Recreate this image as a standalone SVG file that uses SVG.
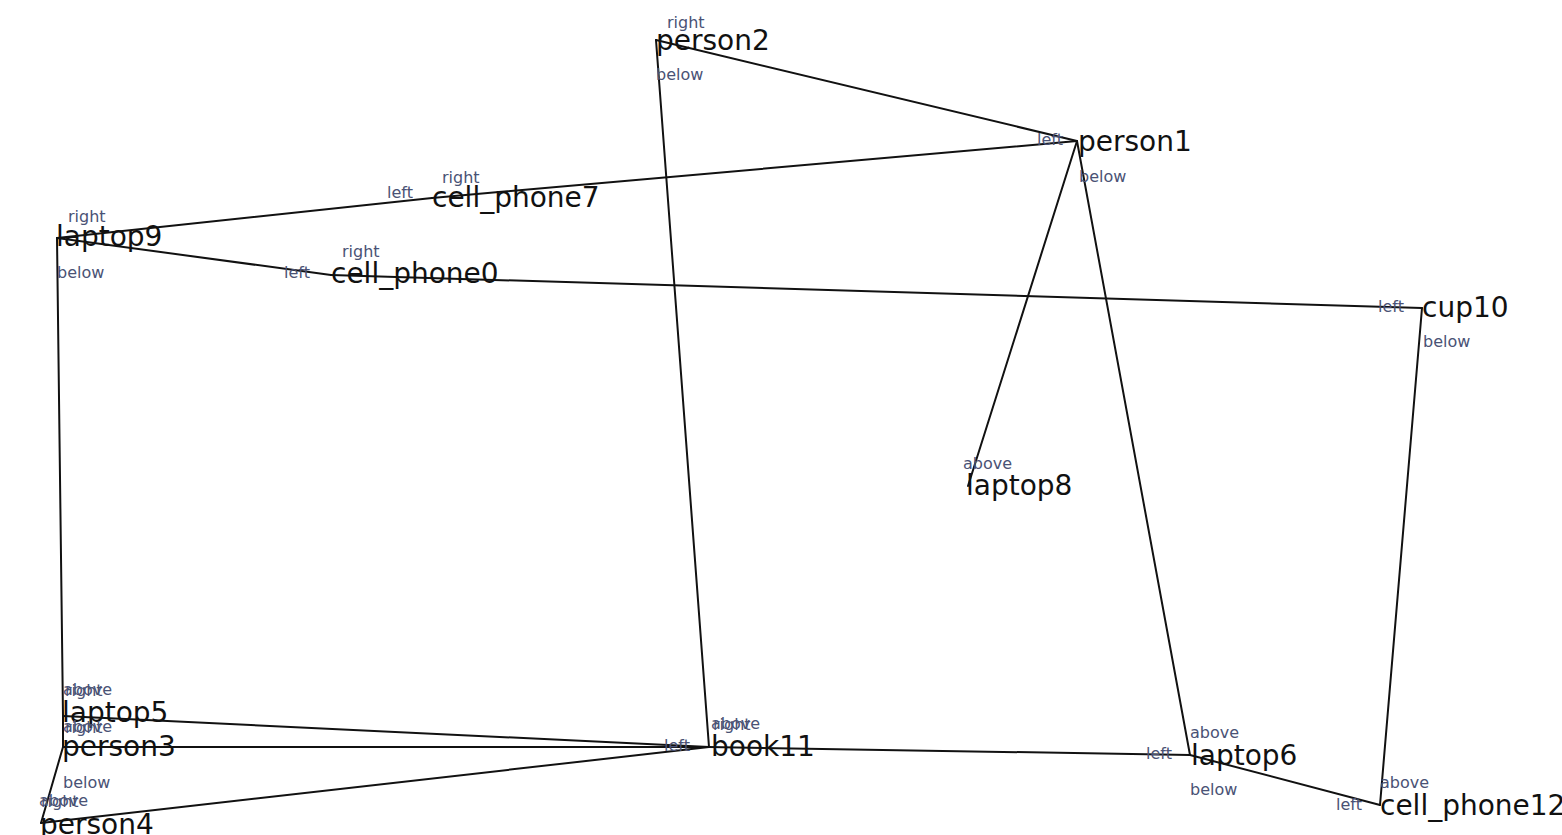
<svg xmlns="http://www.w3.org/2000/svg" width="1562" height="835" viewBox="0 0 1562 835">
  <style>
    .edge { stroke: #111; stroke-width: 2; fill: none; stroke-linecap: round; }
    .name { font-family: "DejaVu Sans", "Liberation Sans", sans-serif; font-size: 28px; fill: #111; }
    .rel { font-family: "DejaVu Sans", "Liberation Sans", sans-serif; font-size: 16px; fill: #4a5275; }
    .rel-l { text-anchor: end; }
  </style>
  <rect width="1562" height="835" fill="#fff"/>

  <!-- connectors -->
  <g id="edges">
    <line class="edge" x1="656" y1="40" x2="1077" y2="141"/>
    <line class="edge" x1="656" y1="40" x2="709" y2="747"/>
    <line class="edge" x1="57" y1="238" x2="432" y2="198"/>
    <line class="edge" x1="432" y1="198" x2="1077" y2="141"/>
    <line class="edge" x1="57" y1="238" x2="331" y2="275"/>
    <line class="edge" x1="331" y1="275" x2="1422" y2="308"/>
    <line class="edge" x1="1077" y1="141" x2="968" y2="486"/>
    <line class="edge" x1="1077" y1="141" x2="1190" y2="755"/>
    <line class="edge" x1="1422" y1="308" x2="1380" y2="805"/>
    <line class="edge" x1="57" y1="238" x2="63" y2="716"/>
    <line class="edge" x1="63" y1="716" x2="63" y2="747"/>
    <line class="edge" x1="63" y1="716" x2="709" y2="747"/>
    <line class="edge" x1="63" y1="747" x2="709" y2="747"/>
    <line class="edge" x1="63" y1="747" x2="41" y2="823"/>
    <line class="edge" x1="41" y1="823" x2="709" y2="747"/>
    <line class="edge" x1="709" y1="747" x2="1190" y2="755"/>
    <line class="edge" x1="1190" y1="755" x2="1380" y2="805"/>
  </g>

  <g id="person2">
    <text class="name" x="656" y="50">person2</text>
    <text class="rel" x="667" y="28">right</text>
    <text class="rel" x="656" y="80">below</text>
  </g>
  <g id="person1">
    <text class="name" x="1078" y="151">person1</text>
    <text class="rel rel-l" x="1063" y="145">left</text>
    <text class="rel" x="1079" y="182">below</text>
  </g>
  <g id="cell_phone7">
    <text class="name" x="432" y="207">cell_phone7</text>
    <text class="rel" x="442" y="183">right</text>
    <text class="rel rel-l" x="413" y="198">left</text>
  </g>
  <g id="laptop9">
    <text class="name" x="56" y="246">laptop9</text>
    <text class="rel" x="68" y="222">right</text>
    <text class="rel" x="57" y="278">below</text>
  </g>
  <g id="cell_phone0">
    <text class="name" x="331" y="283">cell_phone0</text>
    <text class="rel" x="342" y="257">right</text>
    <text class="rel rel-l" x="310" y="278">left</text>
  </g>
  <g id="cup10">
    <text class="name" x="1422" y="317">cup10</text>
    <text class="rel rel-l" x="1404" y="312">left</text>
    <text class="rel" x="1423" y="347">below</text>
  </g>
  <g id="laptop8">
    <text class="name" x="966" y="495">laptop8</text>
    <text class="rel" x="963" y="469">above</text>
  </g>
  <g id="laptop5">
    <text class="name" x="62" y="722">laptop5</text>
    <text class="rel" x="63" y="695">above</text>
    <text class="rel" x="65" y="696">right</text>
  </g>
  <g id="person3">
    <text class="name" x="62" y="756">person3</text>
    <text class="rel" x="63" y="732">above</text>
    <text class="rel" x="65" y="733">right</text>
    <text class="rel" x="63" y="788">below</text>
  </g>
  <g id="person4">
    <text class="name" x="40" y="834">person4</text>
    <text class="rel" x="39" y="806">above</text>
    <text class="rel" x="41" y="807">right</text>
  </g>
  <g id="book11">
    <text class="name" x="711" y="756">book11</text>
    <text class="rel" x="711" y="729">above</text>
    <text class="rel" x="713" y="730">right</text>
    <text class="rel rel-l" x="690" y="751">left</text>
  </g>
  <g id="laptop6">
    <text class="name" x="1191" y="765">laptop6</text>
    <text class="rel" x="1190" y="738">above</text>
    <text class="rel rel-l" x="1172" y="759">left</text>
    <text class="rel" x="1190" y="795">below</text>
  </g>
  <g id="cell_phone12">
    <text class="name" x="1380" y="815">cell_phone12</text>
    <text class="rel" x="1380" y="788">above</text>
    <text class="rel rel-l" x="1362" y="810">left</text>
  </g>
</svg>
